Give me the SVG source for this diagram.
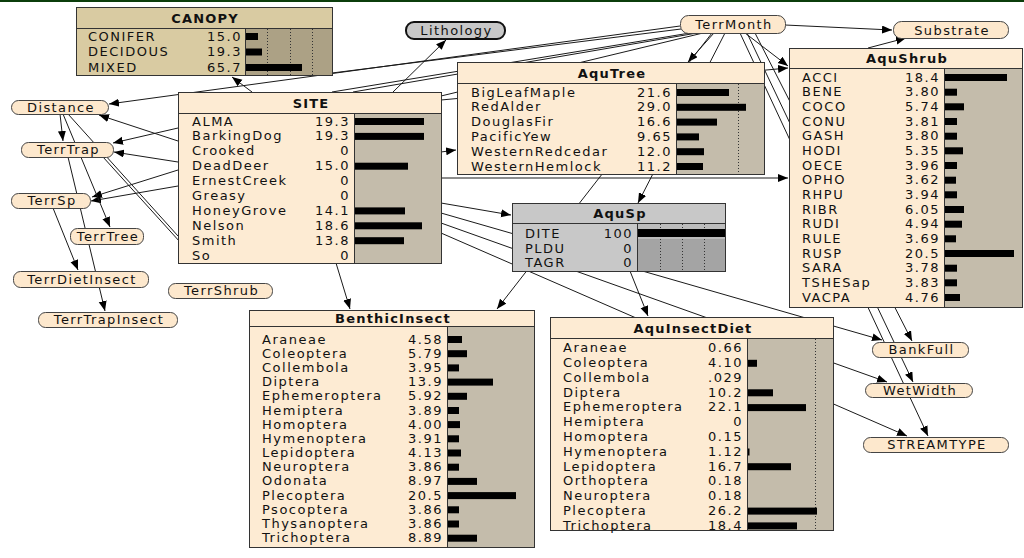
<svg xmlns="http://www.w3.org/2000/svg" width="1024" height="558" viewBox="0 0 1024 558">
<style>
.t{font-family:"DejaVu Sans","Liberation Sans",sans-serif;font-size:13px;letter-spacing:1.5px;fill:#111}
.v{text-anchor:end}
.h{font-weight:bold;text-anchor:middle;letter-spacing:1.2px}
.o{text-anchor:middle;letter-spacing:1.4px}
.frame{stroke:#333;stroke-width:1}
.pe{fill:#fdebd3}
.ba{fill:#c4bcab;stroke:#333;stroke-width:1}
.sep{stroke:#333;stroke-width:1}
.bar{fill:#000}
.dot{stroke:#333;stroke-width:1;stroke-dasharray:1 2}
.ov{fill:#fde8cd;stroke:#444;stroke-width:1}
.c{stroke:#1a1a1a;stroke-width:1;fill:none}
.a{marker-end:url(#arr)}
</style>
<defs>
<marker id="arr" markerUnits="userSpaceOnUse" markerWidth="11" markerHeight="9" refX="10" refY="4" orient="auto">
<path d="M0,0 L10,4 L0,8 z" fill="#000"/>
</marker>
</defs>
<rect x="0" y="0" width="1024" height="558" fill="#fff"/>
<rect x="0" y="0" width="1024" height="2" fill="#0b3d0b"/>

<g id="connectors">
<line class="c a" x1="680" y1="26" x2="109" y2="104"/>
<line class="c" x1="681" y1="29" x2="332" y2="73"/>
<line class="c" x1="690" y1="33" x2="332" y2="92"/>
<line class="c" x1="697" y1="33" x2="353" y2="92"/>
<line class="c" x1="703" y1="33" x2="441" y2="96"/>
<line class="c a" x1="714" y1="33" x2="688" y2="62"/>
<line class="c a" x1="725" y1="33" x2="638" y2="203"/>
<line class="c a" x1="712" y1="33" x2="497" y2="309"/>
<line class="c a" x1="745" y1="33" x2="788" y2="66"/>
<line class="c a" x1="755" y1="33" x2="912" y2="341"/>
<line class="c a" x1="747" y1="33" x2="913" y2="382"/>
<line class="c a" x1="740" y1="33" x2="928" y2="436"/>
<line class="c a" x1="785" y1="25" x2="892" y2="30"/>
<line class="c a" x1="868" y1="48" x2="906" y2="38"/>
<line class="c a" x1="393" y1="92" x2="446" y2="40"/>
<line class="c a" x1="252" y1="92" x2="232" y2="77"/>
<line class="c a" x1="178" y1="141" x2="99" y2="115"/>
<line class="c a" x1="178" y1="128" x2="113" y2="143"/>
<line class="c a" x1="178" y1="162" x2="114" y2="152"/>
<line class="c a" x1="178" y1="170" x2="92" y2="197"/>
<line class="c a" x1="178" y1="186" x2="91" y2="201"/>
<line class="c" x1="103" y1="157" x2="180" y2="242"/>
<line class="c" x1="68" y1="114" x2="178" y2="236"/>
<line class="c a" x1="60" y1="114" x2="63" y2="141"/>
<line class="c a" x1="63" y1="114" x2="110" y2="227"/>
<line class="c a" x1="53" y1="208" x2="78" y2="270"/>
<line class="c a" x1="68" y1="157" x2="105" y2="311"/>
<line class="c a" x1="441" y1="152" x2="456" y2="150"/>
<line class="c a" x1="441" y1="100" x2="788" y2="68"/>
<line class="c a" x1="441" y1="178" x2="788" y2="178"/>
<line class="c a" x1="441" y1="203" x2="511" y2="215"/>
<line class="c a" x1="441" y1="213" x2="882" y2="340"/>
<line class="c a" x1="441" y1="223" x2="887" y2="382"/>
<line class="c a" x1="441" y1="233" x2="907" y2="436"/>
<line class="c a" x1="336" y1="263" x2="350" y2="309"/>
<line class="c a" x1="630" y1="271" x2="648" y2="316"/>
</g>

<g id="canopy">
<rect x="76.5" y="7.5" width="256" height="68" fill="#d9cba2" class="frame"/>
<rect x="245.5" y="28.5" width="87" height="47" fill="#aca185" stroke="#333"/>
<line class="sep" x1="76.5" y1="28.5" x2="332.5" y2="28.5"/>
<line class="dot" x1="267.5" y1="29" x2="267.5" y2="75"/>
<line class="dot" x1="290.5" y1="29" x2="290.5" y2="75"/>
<line class="dot" x1="312.5" y1="29" x2="312.5" y2="75"/>
<text class="t h" x="205" y="22.5">CANOPY</text>
<text class="t" x="88" y="40.5">CONIFER</text><text class="t v" x="242" y="40.5">15.0</text><rect class="bar" x="246" y="33" width="12" height="7"/>
<text class="t" x="88" y="56">DECIDOUS</text><text class="t v" x="242" y="56">19.3</text><rect class="bar" x="246" y="48.5" width="16" height="7"/>
<text class="t" x="88" y="71.5">MIXED</text><text class="t v" x="242" y="71.5">65.7</text><rect class="bar" x="246" y="64" width="56" height="7"/>
</g>

<g id="site">
<rect x="178.5" y="92.5" width="263" height="171" class="pe frame"/>
<rect x="354.5" y="113.5" width="87" height="150" class="ba"/>
<line class="sep" x1="178.5" y1="113.5" x2="441.5" y2="113.5"/>
<text class="t h" x="311" y="107.5">SITE</text>
<text class="t" x="192" y="125.5">ALMA</text><text class="t v" x="350" y="125.5">19.3</text><rect class="bar" x="355" y="118" width="69" height="7"/>
<text class="t" x="192" y="140.4">BarkingDog</text><text class="t v" x="350" y="140.4">19.3</text><rect class="bar" x="355" y="132.9" width="69" height="7"/>
<text class="t" x="192" y="155.3">Crooked</text><text class="t v" x="350" y="155.3">0</text>
<text class="t" x="192" y="170.2">DeadDeer</text><text class="t v" x="350" y="170.2">15.0</text><rect class="bar" x="355" y="162.7" width="53" height="7"/>
<text class="t" x="192" y="185.1">ErnestCreek</text><text class="t v" x="350" y="185.1">0</text>
<text class="t" x="192" y="200">Greasy</text><text class="t v" x="350" y="200">0</text>
<text class="t" x="192" y="214.9">HoneyGrove</text><text class="t v" x="350" y="214.9">14.1</text><rect class="bar" x="355" y="207.4" width="50" height="7"/>
<text class="t" x="192" y="229.8">Nelson</text><text class="t v" x="350" y="229.8">18.6</text><rect class="bar" x="355" y="222.3" width="67" height="7"/>
<text class="t" x="192" y="244.7">Smith</text><text class="t v" x="350" y="244.7">13.8</text><rect class="bar" x="355" y="237.2" width="49" height="7"/>
<text class="t" x="192" y="259.6">So</text><text class="t v" x="350" y="259.6">0</text>
</g>

<g id="aqutree">
<rect x="457.5" y="62.5" width="307" height="112" class="pe frame"/>
<rect x="676.5" y="83.5" width="88" height="91" class="ba"/>
<line class="sep" x1="457.5" y1="83.5" x2="764.5" y2="83.5"/>
<line class="dot" x1="738.5" y1="84" x2="738.5" y2="174"/>
<text class="t h" x="612" y="77.5">AquTree</text>
<text class="t" x="471" y="96.5">BigLeafMaple</text><text class="t v" x="672" y="96.5">21.6</text><rect class="bar" x="677" y="89" width="52" height="7"/>
<text class="t" x="471" y="111.3">RedAlder</text><text class="t v" x="672" y="111.3">29.0</text><rect class="bar" x="677" y="103.8" width="69" height="7"/>
<text class="t" x="471" y="126.1">DouglasFir</text><text class="t v" x="672" y="126.1">16.6</text><rect class="bar" x="677" y="118.6" width="40" height="7"/>
<text class="t" x="471" y="140.9">PacificYew</text><text class="t v" x="672" y="140.9">9.65</text><rect class="bar" x="677" y="133.4" width="22" height="7"/>
<text class="t" x="471" y="155.7">WesternRedcedar</text><text class="t v" x="672" y="155.7">12.0</text><rect class="bar" x="677" y="148.2" width="27" height="7"/>
<text class="t" x="471" y="170.5">WesternHemlock</text><text class="t v" x="672" y="170.5">11.2</text><rect class="bar" x="677" y="163" width="26" height="7"/>
</g>

<g id="aqushrub">
<rect x="789.5" y="48.5" width="233" height="259" class="pe frame"/>
<rect x="944.5" y="68.5" width="78" height="239" class="ba"/>
<line class="sep" x1="789.5" y1="68.5" x2="1022.5" y2="68.5"/>
<text class="t h" x="907" y="63">AquShrub</text>
<text class="t" x="802" y="81.5">ACCI</text><text class="t v" x="940" y="81.5">18.4</text><rect class="bar" x="945" y="74" width="62" height="7"/>
<text class="t" x="802" y="96.2">BENE</text><text class="t v" x="940" y="96.2">3.80</text><rect class="bar" x="945" y="88.7" width="12" height="7"/>
<text class="t" x="802" y="110.8">COCO</text><text class="t v" x="940" y="110.8">5.74</text><rect class="bar" x="945" y="103.3" width="19" height="7"/>
<text class="t" x="802" y="125.5">CONU</text><text class="t v" x="940" y="125.5">3.81</text><rect class="bar" x="945" y="118" width="12" height="7"/>
<text class="t" x="802" y="140.2">GASH</text><text class="t v" x="940" y="140.2">3.80</text><rect class="bar" x="945" y="132.7" width="12" height="7"/>
<text class="t" x="802" y="154.8">HODI</text><text class="t v" x="940" y="154.8">5.35</text><rect class="bar" x="945" y="147.3" width="18" height="7"/>
<text class="t" x="802" y="169.5">OECE</text><text class="t v" x="940" y="169.5">3.96</text><rect class="bar" x="945" y="162" width="12" height="7"/>
<text class="t" x="802" y="184.2">OPHO</text><text class="t v" x="940" y="184.2">3.62</text><rect class="bar" x="945" y="176.7" width="11" height="7"/>
<text class="t" x="802" y="198.8">RHPU</text><text class="t v" x="940" y="198.8">3.94</text><rect class="bar" x="945" y="191.3" width="12" height="7"/>
<text class="t" x="802" y="213.5">RIBR</text><text class="t v" x="940" y="213.5">6.05</text><rect class="bar" x="945" y="206" width="19" height="7"/>
<text class="t" x="802" y="228.2">RUDI</text><text class="t v" x="940" y="228.2">4.94</text><rect class="bar" x="945" y="220.7" width="17" height="7"/>
<text class="t" x="802" y="242.8">RULE</text><text class="t v" x="940" y="242.8">3.69</text><rect class="bar" x="945" y="235.3" width="11" height="7"/>
<text class="t" x="802" y="257.5">RUSP</text><text class="t v" x="940" y="257.5">20.5</text><rect class="bar" x="945" y="250" width="69" height="7"/>
<text class="t" x="802" y="272.2">SARA</text><text class="t v" x="940" y="272.2">3.78</text><rect class="bar" x="945" y="264.7" width="12" height="7"/>
<text class="t" x="802" y="286.8">TSHESap</text><text class="t v" x="940" y="286.8">3.83</text><rect class="bar" x="945" y="279.3" width="12" height="7"/>
<text class="t" x="802" y="301.5">VACPA</text><text class="t v" x="940" y="301.5">4.76</text><rect class="bar" x="945" y="294" width="15" height="7"/>
</g>

<g id="aqusp">
<rect x="512.5" y="203.5" width="213" height="68" fill="#c8c8c8" class="frame"/>
<rect x="637.5" y="223.5" width="88" height="48" fill="#a4a4a4" stroke="#333"/>
<rect x="638" y="224" width="87" height="5" fill="#bcbcbc"/>
<rect x="638" y="229" width="87" height="8" fill="#000"/>
<rect x="638" y="237" width="87" height="2" fill="#bcbcbc"/>
<line class="sep" x1="512.5" y1="223.5" x2="725.5" y2="223.5"/>
<line class="dot" x1="660.5" y1="224" x2="660.5" y2="229"/>
<line class="dot" x1="682.5" y1="224" x2="682.5" y2="229"/>
<line class="dot" x1="704.5" y1="224" x2="704.5" y2="229"/>
<line class="dot" x1="660.5" y1="239" x2="660.5" y2="271"/>
<line class="dot" x1="682.5" y1="239" x2="682.5" y2="271"/>
<line class="dot" x1="704.5" y1="239" x2="704.5" y2="271"/>
<text class="t h" x="620" y="218">AquSp</text>
<text class="t" x="525" y="237.5">DITE</text><text class="t v" x="633" y="237.5">100</text>
<text class="t" x="525" y="252.5">PLDU</text><text class="t v" x="633" y="252.5">0</text>
<text class="t" x="525" y="266.5">TAGR</text><text class="t v" x="633" y="266.5">0</text>
</g>

<g id="benthicinsect">
<rect x="249.5" y="310.5" width="285" height="237" class="pe frame"/>
<rect x="447.5" y="326.5" width="87" height="221" class="ba"/>
<line class="sep" x1="249.5" y1="326.5" x2="534.5" y2="326.5"/>
<text class="t h" x="393" y="323">BenthicInsect</text>
<text class="t" x="262" y="343.5">Araneae</text><text class="t v" x="443" y="343.5">4.58</text><rect class="bar" x="448" y="336" width="14" height="7"/>
<text class="t" x="262" y="357.7">Coleoptera</text><text class="t v" x="443" y="357.7">5.79</text><rect class="bar" x="448" y="350.2" width="19" height="7"/>
<text class="t" x="262" y="371.9">Collembola</text><text class="t v" x="443" y="371.9">3.95</text><rect class="bar" x="448" y="364.4" width="11" height="7"/>
<text class="t" x="262" y="386.1">Diptera</text><text class="t v" x="443" y="386.1">13.9</text><rect class="bar" x="448" y="378.6" width="45" height="7"/>
<text class="t" x="262" y="400.3">Ephemeroptera</text><text class="t v" x="443" y="400.3">5.92</text><rect class="bar" x="448" y="392.8" width="19" height="7"/>
<text class="t" x="262" y="414.5">Hemiptera</text><text class="t v" x="443" y="414.5">3.89</text><rect class="bar" x="448" y="407" width="11" height="7"/>
<text class="t" x="262" y="428.6">Homoptera</text><text class="t v" x="443" y="428.6">4.00</text><rect class="bar" x="448" y="421.1" width="12" height="7"/>
<text class="t" x="262" y="442.8">Hymenoptera</text><text class="t v" x="443" y="442.8">3.91</text><rect class="bar" x="448" y="435.3" width="11" height="7"/>
<text class="t" x="262" y="457">Lepidoptera</text><text class="t v" x="443" y="457">4.13</text><rect class="bar" x="448" y="449.5" width="13" height="7"/>
<text class="t" x="262" y="471.2">Neuroptera</text><text class="t v" x="443" y="471.2">3.86</text><rect class="bar" x="448" y="463.7" width="11" height="7"/>
<text class="t" x="262" y="485.4">Odonata</text><text class="t v" x="443" y="485.4">8.97</text><rect class="bar" x="448" y="477.9" width="29" height="7"/>
<text class="t" x="262" y="499.6">Plecoptera</text><text class="t v" x="443" y="499.6">20.5</text><rect class="bar" x="448" y="492.1" width="68" height="7"/>
<text class="t" x="262" y="513.8">Psocoptera</text><text class="t v" x="443" y="513.8">3.86</text><rect class="bar" x="448" y="506.3" width="11" height="7"/>
<text class="t" x="262" y="528">Thysanoptera</text><text class="t v" x="443" y="528">3.86</text><rect class="bar" x="448" y="520.5" width="11" height="7"/>
<text class="t" x="262" y="542.2">Trichoptera</text><text class="t v" x="443" y="542.2">8.89</text><rect class="bar" x="448" y="534.7" width="29" height="7"/>
</g>

<g id="aquinsectdiet">
<rect x="550.5" y="317.5" width="283" height="213" class="pe frame"/>
<rect x="747.5" y="338.5" width="86" height="192" class="ba"/>
<line class="sep" x1="550.5" y1="338.5" x2="833.5" y2="338.5"/>
<line class="dot" x1="815.5" y1="339" x2="815.5" y2="530"/>
<text class="t h" x="693" y="332.5">AquInsectDiet</text>
<text class="t" x="563" y="352.3">Araneae</text><text class="t v" x="743" y="352.3">0.66</text>
<text class="t" x="563" y="367.1">Coleoptera</text><text class="t v" x="743" y="367.1">4.10</text><rect class="bar" x="748" y="359.8" width="9" height="7"/>
<text class="t" x="563" y="381.9">Collembola</text><text class="t v" x="743" y="381.9">.029</text>
<text class="t" x="563" y="396.6">Diptera</text><text class="t v" x="743" y="396.6">10.2</text><rect class="bar" x="748" y="389.3" width="25" height="7"/>
<text class="t" x="563" y="411.4">Ephemeroptera</text><text class="t v" x="743" y="411.4">22.1</text><rect class="bar" x="748" y="404.1" width="58" height="7"/>
<text class="t" x="563" y="426.2">Hemiptera</text><text class="t v" x="743" y="426.2">0</text>
<text class="t" x="563" y="441">Homoptera</text><text class="t v" x="743" y="441">0.15</text>
<text class="t" x="563" y="455.8">Hymenoptera</text><text class="t v" x="743" y="455.8">1.12</text><rect class="bar" x="748" y="448.5" width="1.5" height="7"/>
<text class="t" x="563" y="470.5">Lepidoptera</text><text class="t v" x="743" y="470.5">16.7</text><rect class="bar" x="748" y="463.2" width="43" height="7"/>
<text class="t" x="563" y="485.3">Orthoptera</text><text class="t v" x="743" y="485.3">0.18</text>
<text class="t" x="563" y="500.1">Neuroptera</text><text class="t v" x="743" y="500.1">0.18</text>
<text class="t" x="563" y="514.9">Plecoptera</text><text class="t v" x="743" y="514.9">26.2</text><rect class="bar" x="748" y="507.6" width="69" height="7"/>
<text class="t" x="563" y="529.6">Trichoptera</text><text class="t v" x="743" y="529.6">18.4</text><rect class="bar" x="748" y="522.4" width="49" height="7"/>
</g>

<g id="distance"><rect class="ov" x="11.5" y="100.5" width="97" height="14" rx="7"/><text class="t o" x="61" y="111.5">Distance</text></g>
<g id="terrtrap"><rect class="ov" x="21.5" y="142.5" width="92" height="15" rx="7"/><text class="t o" x="68.5" y="154">TerrTrap</text></g>
<g id="terrsp"><rect class="ov" x="11.5" y="193.5" width="79" height="15" rx="7"/><text class="t o" x="52" y="205">TerrSp</text></g>
<g id="terrtree"><rect class="ov" x="70.5" y="228.5" width="73" height="16" rx="7"/><text class="t o" x="108" y="240.5">TerrTree</text></g>
<g id="terrdietinsect"><rect class="ov" x="13.5" y="271.5" width="135" height="16" rx="7"/><text class="t o" x="82" y="283.5">TerrDietInsect</text></g>
<g id="terrtrapinsect"><rect class="ov" x="38.5" y="312.5" width="139" height="15" rx="7"/><text class="t o" x="109" y="324">TerrTrapInsect</text></g>
<g id="terrshrub"><rect class="ov" x="168.5" y="283.5" width="104" height="15" rx="7"/><text class="t o" x="221.5" y="295">TerrShrub</text></g>
<g id="lithology"><rect x="406" y="22" width="99" height="17" rx="8" fill="#c8c8c8" stroke="#111" stroke-width="2"/><text class="t o" x="456.5" y="35">Lithology</text></g>
<g id="terrmonth"><rect class="ov" x="680.5" y="15.5" width="105" height="18" rx="8"/><text class="t o" x="734" y="29">TerrMonth</text></g>
<g id="substrate"><rect class="ov" x="893.5" y="21.5" width="115" height="17" rx="8"/><text class="t o" x="952" y="34.5">Substrate</text></g>
<g id="bankfull"><rect class="ov" x="872.5" y="342.5" width="96" height="15" rx="7"/><text class="t o" x="921.5" y="354">BankFull</text></g>
<g id="wetwidth"><rect class="ov" x="865.5" y="383.5" width="107" height="14" rx="7"/><text class="t o" x="920" y="394.5">WetWidth</text></g>
<g id="streamtype"><rect class="ov" x="863.5" y="437.5" width="145" height="15" rx="7"/><text class="t o" x="937" y="449">STREAMTYPE</text></g>
</svg>
